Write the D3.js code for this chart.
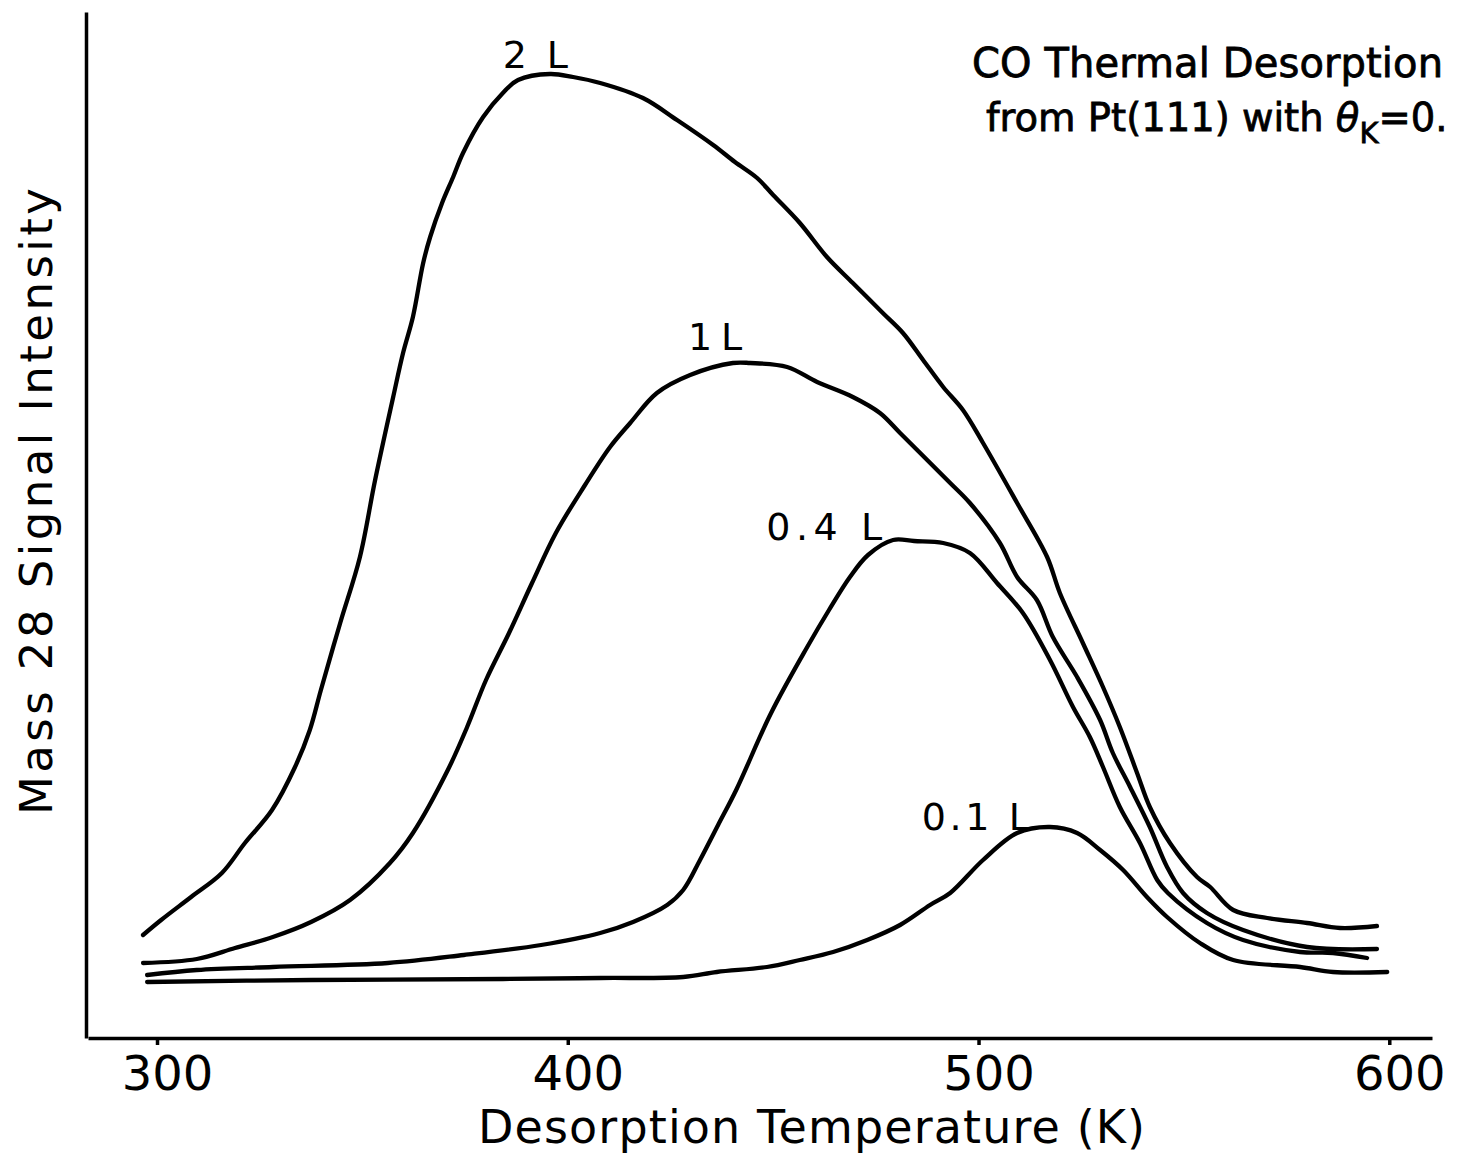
<!DOCTYPE html>
<html>
<head>
<meta charset="utf-8">
<script src="https://cdn.jsdelivr.net/npm/d3@7"></script>
<style>
  body { margin: 0; background: #fff; }
  svg { display: block; }
  text { font-family: "DejaVu Sans", sans-serif; fill: #000; }
</style>
</head>
<body>
<svg></svg>
<script>
// desorption temperature (K) and mass 28 signal (arb. units)
var temp2L = [296.6,301.0,308.3,315.8,321.4,328.0,333.6,337.2,339.9,344.6,349.4,353.1,357.5,359.9,362.3,364.8,366.5,369.4,372.1,374.5,379.4,384.2,387.9,395.7,401.3,407.9,418.3,426.6,435.4,440.7,446.1,450.0,456.5,463.1,469.4,476.7,481.6,486.5,491.4,496.2,501.1,509.4,516.7,519.8,525.4,530.3,534.4,538.6,541.7,546.6,553.2,556.4,562.0,570.3,580.0,588.0,597.0];
var sig2L  = [10.3,11.8,14.1,16.5,19.5,22.8,27.1,30.8,34.8,41.5,48.1,55.8,64.1,68.5,72.1,77.5,80.1,83.5,86.1,88.5,92.1,94.5,95.8,96.4,96.1,95.5,94.0,91.8,89.3,87.6,86.0,84.3,81.5,78.1,75.5,72.5,70.5,67.8,65.1,62.8,59.5,53.5,48.1,44.5,39.5,35.1,31.1,26.5,23.1,19.5,16.1,15.1,12.8,12.0,11.5,11.0,11.2];

var temp1L = [296.6,309.7,319.0,328.2,337.5,347.0,356.7,362.3,370.8,375.5,380.1,385.7,391.3,397.1,404.2,410.3,415.2,421.7,429.8,440.2,444.4,453.4,460.7,469.4,476.0,480.9,487.5,493.1,497.9,505.2,509.4,514.2,518.1,524.0,529.6,532.7,536.9,541.7,545.9,549.8,555.6,564.4,580.0,597.0];
var sig1L  = [7.5,7.9,9.0,10.1,11.6,13.8,17.5,20.5,26.8,31.1,35.8,40.5,45.5,50.5,55.3,59.1,61.5,64.5,66.3,67.5,67.5,67.1,65.6,64.1,62.5,60.5,57.8,55.5,53.5,49.5,46.1,43.8,40.1,36.1,31.8,28.5,25.1,21.1,17.1,14.5,12.5,10.8,9.1,8.9];

var temp04L = [297.6,309.7,328.2,356.2,374.7,393.5,407.9,415.9,424.2,428.1,432.2,436.6,441.0,449.5,458.3,463.6,468.7,473.1,479.2,484.3,491.4,497.9,504.5,510.8,517.4,523.0,527.1,530.3,534.4,539.3,543.5,546.1,555.6,564.4,578.3,586.3,594.6];
var sig04L  = [6.3,6.8,7.1,7.5,8.3,9.3,10.5,11.6,13.3,14.8,17.8,21.3,24.8,32.5,39.1,42.8,46.1,48.3,49.8,49.7,49.5,48.5,45.5,42.5,37.8,33.1,30.1,27.1,23.1,19.5,15.8,14.5,11.5,9.8,8.6,8.5,8.0];

var temp01L = [297.6,337.5,384.2,407.9,428.1,436.3,448.5,456.5,464.6,472.9,480.9,488.2,493.1,501.1,509.4,517.4,524.0,529.6,535.2,541.0,545.9,553.9,562.0,578.3,586.3,599.5];
var sig01L  = [5.6,5.8,5.9,6.0,6.1,6.6,7.1,7.8,8.6,9.8,11.3,13.3,14.5,17.8,20.5,21.1,20.5,18.8,16.8,14.1,12.1,9.5,7.8,7.1,6.6,6.6];

var exposures = ["2 L", "1 L", "0.4 L", "0.1 L"];
// label anchor (left edge, baseline) in data units
var labelT = [384.2, 429.3, 448.3, 486.2];
var labelS = [97.0, 68.8, 49.8, 20.8];
var labelW = [65, 54, 116, 108];

var xTicks = [300, 400, 500, 600];

var width = 1459, height = 1155;

var svg = d3.select("svg")
  .attr("width", width)
  .attr("height", height);

var x = d3.scaleLinear().domain([283.2, 610.4]).range([88, 1432]);
var y = d3.scaleLinear().domain([0, 102.6]).range([1038, 12]);

var series = [
  d3.zip(temp2L, sig2L),
  d3.zip(temp1L, sig1L),
  d3.zip(temp04L, sig04L),
  d3.zip(temp01L, sig01L)
];

// axes
var xAxis = svg.append("g")
  .attr("transform", "translate(0," + y(0) + ")")
  .call(d3.axisBottom(x).tickValues(xTicks).tickSize(7).tickSizeOuter(0).tickFormat(d3.format("d")));
xAxis.select(".domain").attr("stroke", "#000").attr("stroke-width", 3.5);
xAxis.selectAll(".tick line").attr("stroke", "#000").attr("stroke-width", 3.5);
xAxis.selectAll(".tick text")
  .attr("y", 52).attr("dy", 0).attr("dx", 10)
  .style("font-size", "48px")
  .style("font-family", "DejaVu Sans, sans-serif")
  .attr("fill", "#000");

var yAxis = svg.append("g")
  .attr("transform", "translate(86,0)")
  .call(d3.axisLeft(y).tickValues([]).tickSizeOuter(0));
yAxis.select(".domain").attr("stroke", "#000").attr("stroke-width", 3.5);

// curves
var line = d3.line()
  .x(d => x(d[0]))
  .y(d => y(d[1]))
  .curve(d3.curveCatmullRom.alpha(0.5));

svg.append("g").selectAll("path")
  .data(series)
  .enter()
  .append("path")
  .attr("d", line)
  .attr("fill", "none")
  .attr("stroke", "#000")
  .attr("stroke-width", 4.3)
  .attr("stroke-linejoin", "round")
  .attr("stroke-linecap", "round");

svg.append("g").selectAll("text")
  .data(exposures)
  .enter()
  .append("text")
  .attr("x", (d, i) => x(labelT[i]))
  .attr("y", (d, i) => y(labelS[i]))
  .attr("textLength", (d, i) => labelW[i])
  .attr("lengthAdjust", "spacing")
  .style("font-size", "38px")
  .text(d => d);

// axis titles
svg.append("text")
  .attr("x", 478).attr("y", 1143)
  .attr("textLength", 667).attr("lengthAdjust", "spacing")
  .style("font-size", "46px")
  .text("Desorption Temperature (K)");

svg.append("text")
  .attr("transform", "translate(52,815)rotate(-90)")
  .attr("textLength", 627).attr("lengthAdjust", "spacing")
  .style("font-size", "45px")
  .text("Mass 28 Signal Intensity");

// title
svg.append("text")
  .attr("x", 972).attr("y", 77)
  .attr("textLength", 471).attr("lengthAdjust", "spacing")
  .style("font-size", "40px")
  .attr("stroke", "#000").attr("stroke-width", 0.8)
  .text("CO Thermal Desorption");

var t2 = svg.append("text")
  .attr("x", 986).attr("y", 131)
  .style("font-size", "38.5px")
  .attr("stroke", "#000").attr("stroke-width", 0.8);
t2.append("tspan").text("from Pt(111) with ");
t2.append("tspan").style("font-style", "italic").text("θ");
t2.append("tspan").attr("dy", 12).style("font-size", "29px").text("K");
t2.append("tspan").attr("dy", -12).text("=0.");
</script>
</body>
</html>
